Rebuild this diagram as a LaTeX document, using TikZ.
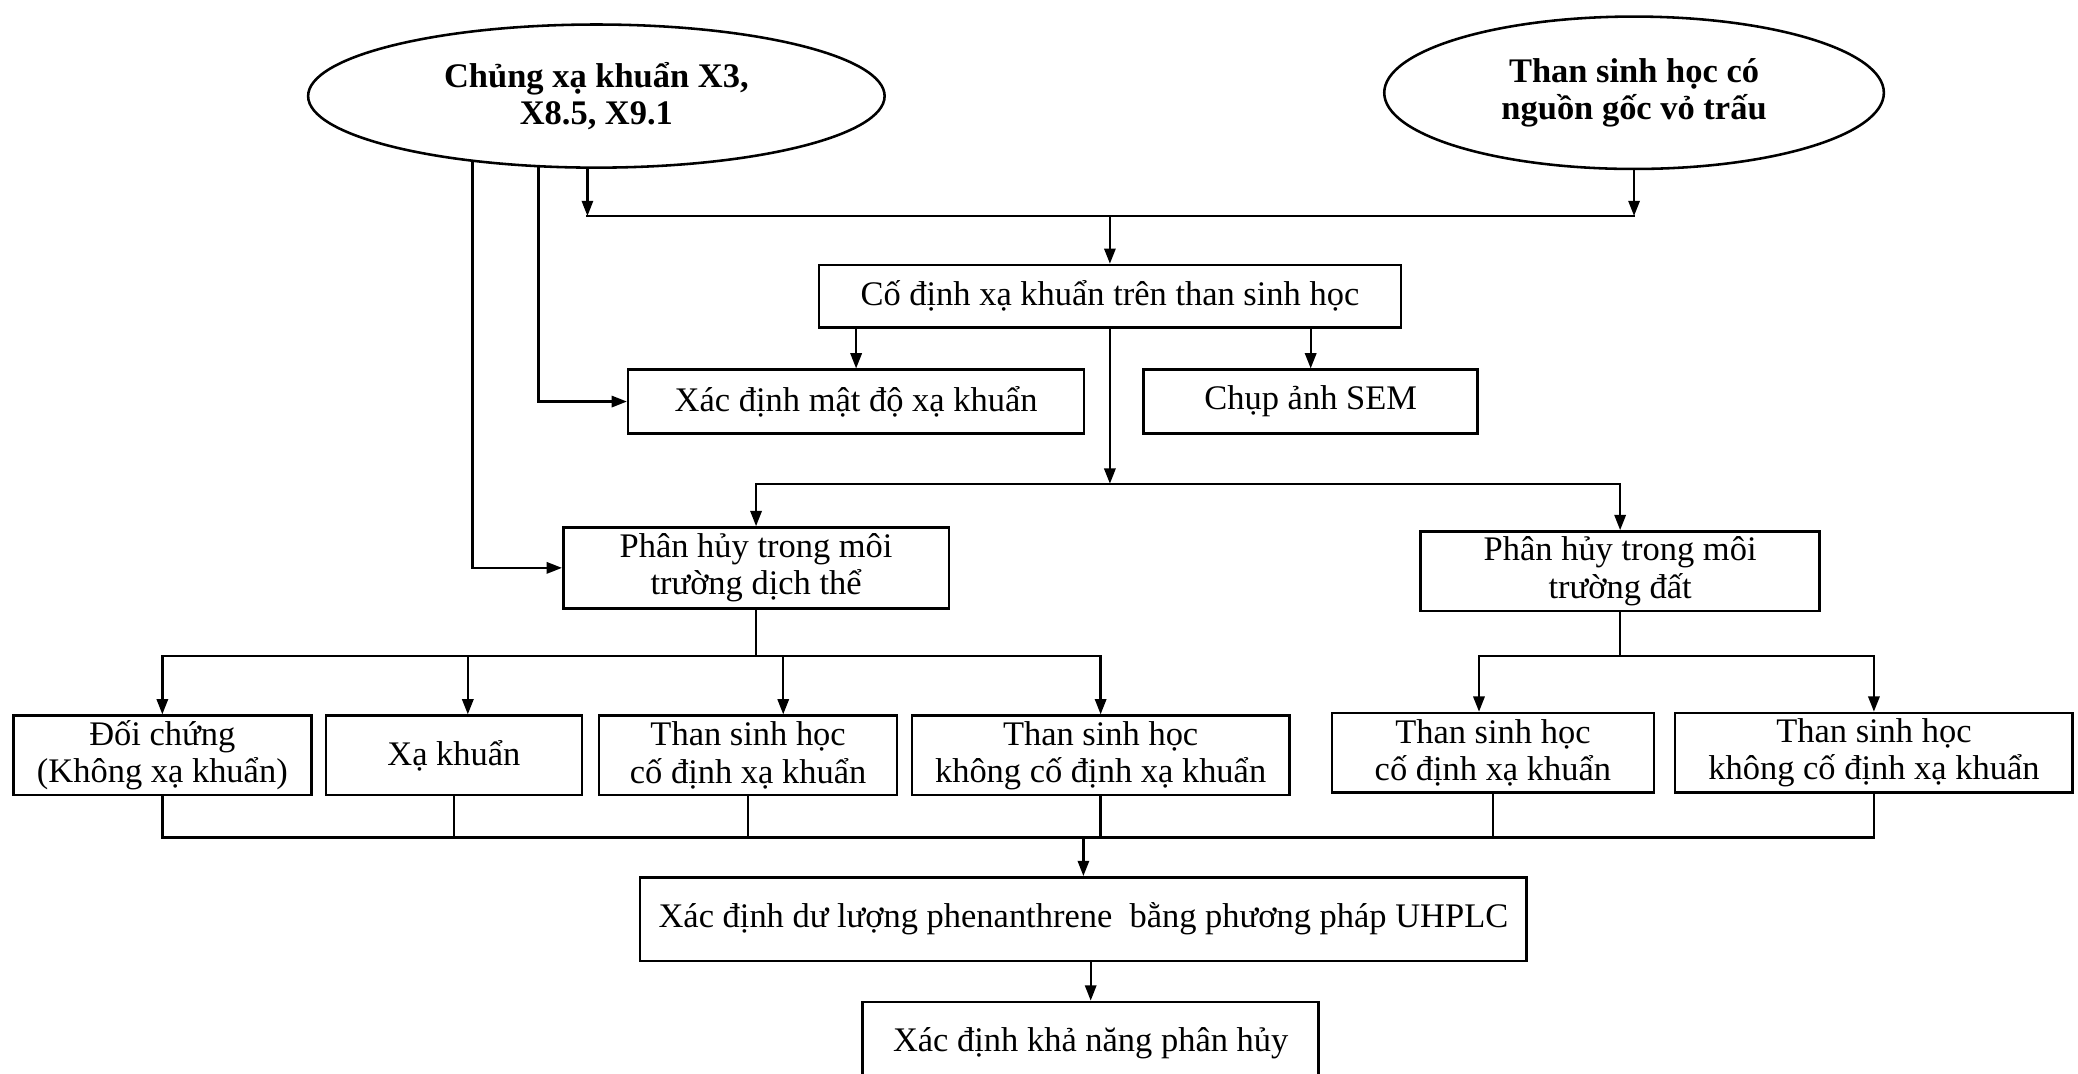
\documentclass[tikz,border=0pt]{standalone}
\usepackage{fontspec}
\setmainfont{Liberation Serif}
\usetikzlibrary{shapes.geometric, arrows.meta}
\newcommand{\fsz}{\fontsize{14.8}{16}\selectfont}

\begin{document}
\begin{tikzpicture}[
    src/.style={
      draw, ellipse, line width=1.1pt, align=center,
      font=\fsz\bfseries, inner sep=0pt
    },
    proc/.style={
      draw, line width=1.1pt, align=center, font=\fsz,
      minimum height=0.96cm, inner sep=2pt
    },
    fl/.style={-{Triangle[length=2.3mm, width=1.7mm]}, line width=1pt},
    ln/.style={line width=1pt, line cap=rect}
  ]
    \useasboundingbox (0,0) rectangle (31.36,-16.2);

    % --- Nguồn ---
    \node[src, minimum width=8.70cm, minimum height=2.16cm] (ea) at (9.00,-1.45)
      {Chủng xạ khuẩn X3,\\X8.5, X9.1};
    \node[src, minimum width=7.54cm, minimum height=2.30cm] (eb) at (24.66,-1.40)
      {Than sinh học có\\nguồn gốc vỏ trấu};

    % --- Cố định ---
    \node[proc, minimum width=8.78cm, minimum height=0.94cm] (fix) at (16.75,-4.47)
      {Cố định xạ khuẩn trên than sinh học};
    \node[proc, minimum width=6.88cm] (dens) at (12.92,-6.06) {Xác định mật độ xạ khuẩn};
    \node[proc, minimum width=5.04cm] (sem)  at (19.78,-6.06) {Chụp ảnh SEM};

    % --- Phân hủy ---
    \node[proc, minimum width=5.82cm, minimum height=1.22cm] (liq)  at (11.41,-8.57)
      {Phân hủy trong môi\\trường dịch thể};
    \node[proc, minimum width=6.02cm, minimum height=1.20cm] (soil) at (24.45,-8.62)
      {Phân hủy trong môi\\trường đất};

    \node[proc, minimum width=4.50cm, minimum height=1.20cm] (c1) at (2.45,-11.40)
      {Đối chứng\\(Không xạ khuẩn)};
    \node[proc, minimum width=3.86cm, minimum height=1.20cm] (c2) at (6.85,-11.40)
      {Xạ khuẩn};
    \node[proc, minimum width=4.50cm, minimum height=1.20cm] (c3) at (11.29,-11.40)
      {Than sinh học\\cố định xạ khuẩn};
    \node[proc, minimum width=5.70cm, minimum height=1.20cm] (c4) at (16.61,-11.40)
      {Than sinh học\\không cố định xạ khuẩn};
    \node[proc, minimum width=4.86cm, minimum height=1.20cm] (c5) at (22.53,-11.36)
      {Than sinh học\\cố định xạ khuẩn};
    \node[proc, minimum width=6.00cm, minimum height=1.20cm] (c6) at (28.28,-11.36)
      {Than sinh học\\không cố định xạ khuẩn};

    % --- Kết quả ---
    \node[proc, minimum width=13.38cm, minimum height=1.26cm] (uh) at (16.35,-13.87)
      {Xác định dư lượng phenanthrene~ bằng phương pháp UHPLC};
    \node[proc, minimum width=6.88cm, minimum height=1.26cm] (fin) at (16.46,-15.75)
      {Xác định khả năng phân hủy};

    % --- Đường nối ---
    \coordinate (bus1) at (16.75,-3.26);
    \coordinate (bus2) at (16.75,-7.30);
    \coordinate (bus3) at (0,-9.90);
    \coordinate (bus4) at (0,-12.64);
    \coordinate (a2) at ([xshift=2.1mm]c2.north);
    \coordinate (a3) at ([xshift=5.3mm]c3.north);
    \coordinate (a5) at ([xshift=-2.1mm]c5.north);

    \draw[fl] (ea.263)   -- (ea.263 |- bus1);
    \draw[fl] (eb.south) -- (eb.south |- bus1);
    \draw[ln] (ea.263 |- bus1) -- (eb.south |- bus1);
    \draw[fl] (bus1) -- (fix);
    \draw[fl] (ea.231) |- (dens.west);
    \draw[fl] (ea.208) |- (liq.west);

    \draw[fl] (fix.south -| dens.north) -- (dens.north);
    \draw[fl] (fix.south -| sem.north)  -- (sem.north);
    \draw[fl] (fix.south) -- (bus2);
    \draw[ln] (liq.north |- bus2) -- (soil.north |- bus2);
    \draw[fl] (liq.north |- bus2)  -- (liq.north);
    \draw[fl] (soil.north |- bus2) -- (soil.north);

    \draw[ln] (liq.south) -- (liq.south |- bus3);
    \draw[ln] (c1.north |- bus3) -- (c4.north |- bus3);
    \draw[fl] (c1.north |- bus3) -- (c1.north);
    \draw[fl] (a2 |- bus3) -- (a2);
    \draw[fl] (a3 |- bus3) -- (a3);
    \draw[fl] (c4.north |- bus3) -- (c4.north);

    \draw[ln] (soil.south) -- (soil.south |- bus3);
    \draw[ln] (a5 |- bus3) -- (c6.north |- bus3);
    \draw[fl] (a5 |- bus3) -- (a5);
    \draw[fl] (c6.north |- bus3) -- (c6.north);

    \draw[ln] (c1.south) -- (c1.south |- bus4);
    \draw[ln] (c2.south) -- (c2.south |- bus4);
    \draw[ln] (c3.south) -- (c3.south |- bus4);
    \draw[ln] (c4.south) -- (c4.south |- bus4);
    \draw[ln] (c5.south) -- (c5.south |- bus4);
    \draw[ln] (c6.south) -- (c6.south |- bus4);
    \draw[ln] (c1.south |- bus4) -- (c6.south |- bus4);
    \draw[fl] (uh.north |- bus4) -- (uh.north);
    \draw[fl] (uh.south -| fin.north) -- (fin.north);
  \end{tikzpicture}
\end{document}
